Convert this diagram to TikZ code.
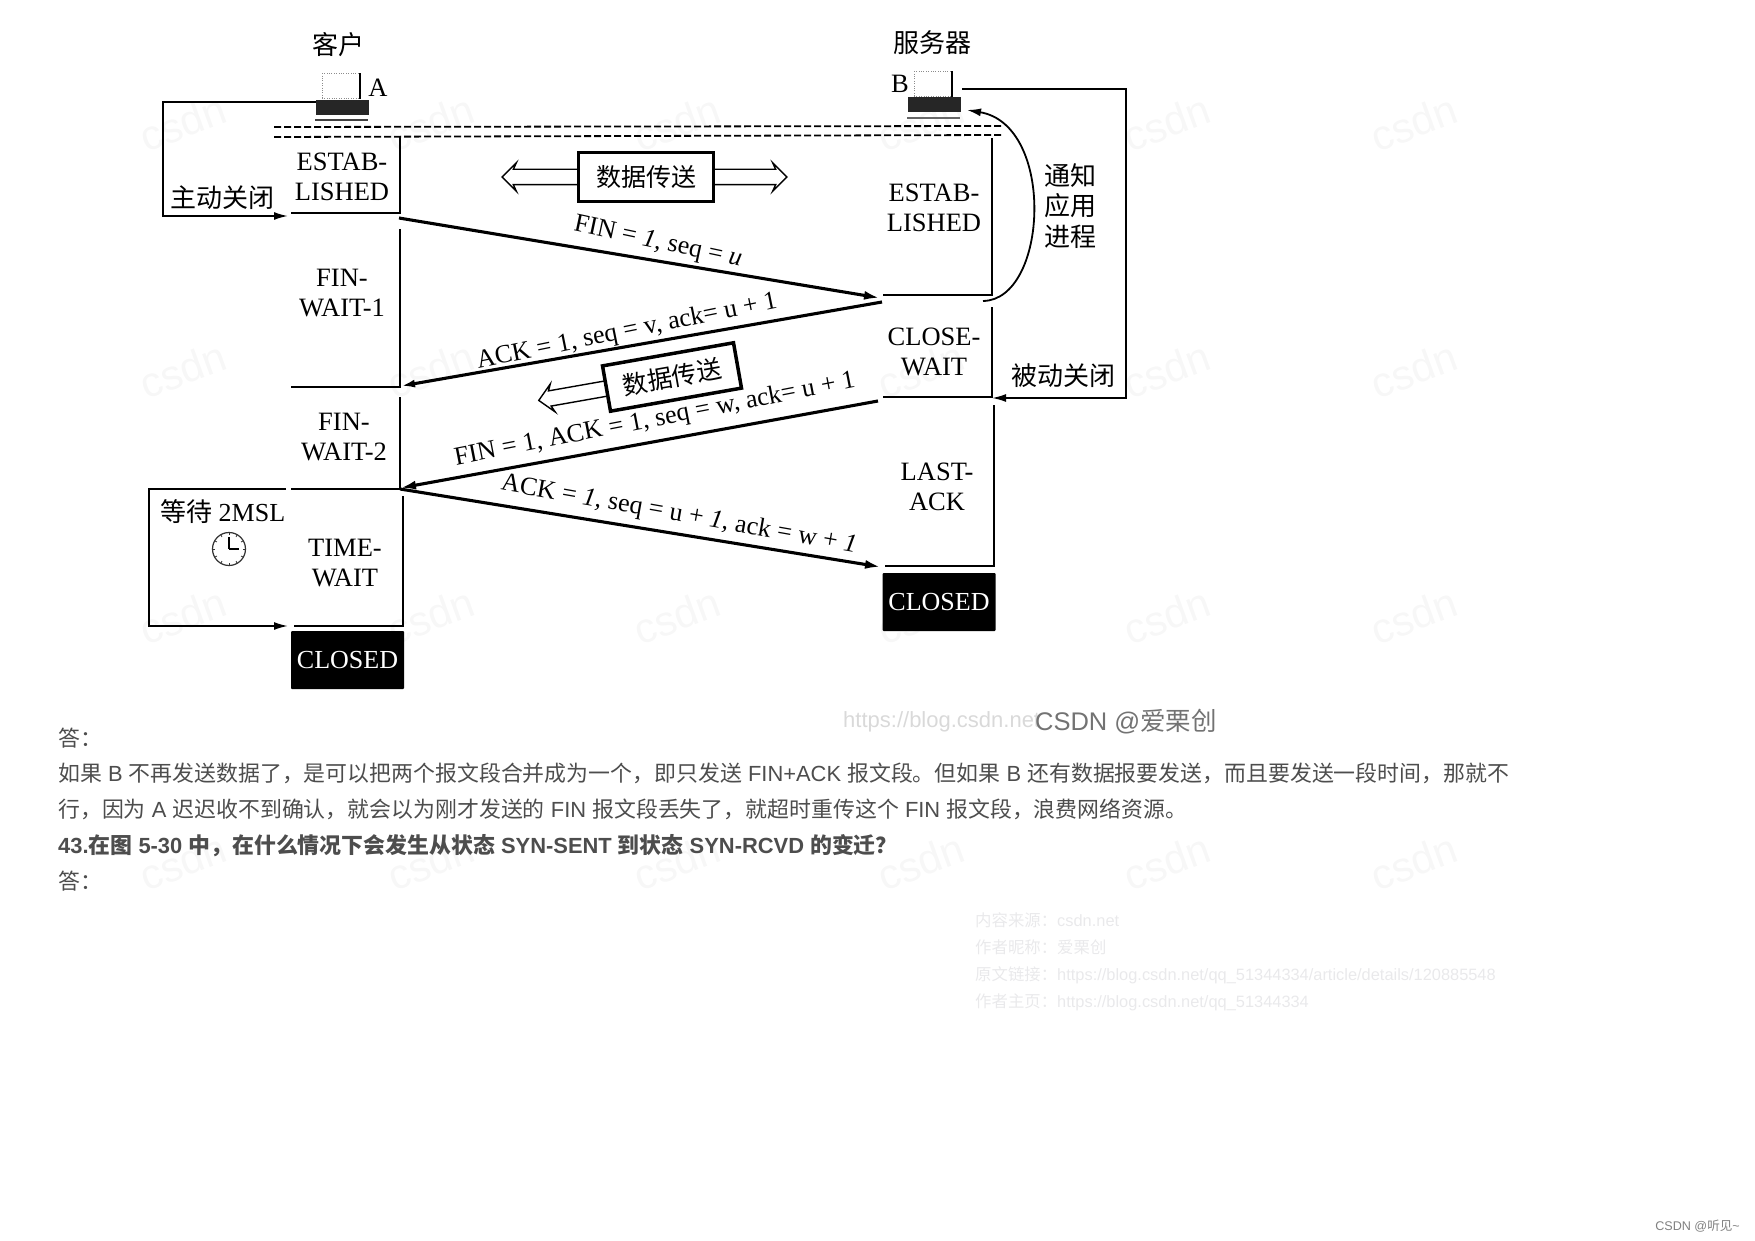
\documentclass[tikz,border=0pt]{standalone}
\usepackage{fontspec}
\usetikzlibrary{arrows.meta,positioning,calc,shapes.arrows}
\setmainfont{Liberation Sans}
\newfontfamily\cjk{Noto Sans CJK SC}
\newfontfamily\timesrm{Liberation Serif}
\newcommand{\zh}[1]{{\cjk #1}}
\newcommand{\fwcomma}{\char"FF0C\relax}
\newcommand{\fwcolon}{\char"FF1A\relax}
\newcommand{\fwquest}{\char"FF1F\relax}
\definecolor{bodygray}{HTML}{4D4D4D}
\definecolor{markgray}{HTML}{F7F7F7}
\definecolor{notegray}{HTML}{E9E9EB}
\tikzset{
	statelabel/.style={font=\timesrm\fontsize{26.5}{30}\selectfont,align=center,inner sep=0pt},
	msglabel/.style={font=\timesrm\fontsize{26}{27}\selectfont,inner sep=0pt},
	cnlabel/.style={font=\cjk\fontsize{26}{30.5}\selectfont,align=center,inner sep=0pt},
	closedbox/.style={fill=black,text=white,font=\timesrm\fontsize{26}{30}\selectfont,minimum width=113pt,minimum height=58pt,inner sep=0pt,rounded corners=1pt},
	databox/.style={draw,line width=3.5pt,fill=white,font=\cjk\fontsize{25}{30}\selectfont,minimum width=133pt,minimum height=46pt,inner sep=0pt},
	hollowarrow/.style={single arrow,draw,line width=1.4pt,fill=white,single arrow head extend=6.5pt,single arrow head indent=3pt,inner xsep=0pt,inner ysep=7pt},
	stateline/.style={line width=1.5pt},
	loopline/.style={line width=1.8pt},
	msgline/.style={line width=3.1pt},
	bodytext/.style={anchor=base west,inner sep=0pt,text=bodygray,font=\fontsize{21.9}{26}\selectfont},
	notetext/.style={anchor=base west,inner sep=0pt,text=notegray,font=\fontsize{16.4}{20}\selectfont},
	watermark/.style={text=markgray,font=\fontsize{42}{44}\selectfont,rotate=20,inner sep=0pt},
	hostbase/.style={fill=black!85,minimum width=53pt,minimum height=15pt,inner sep=0pt},
	hostscreen/.style={draw=black!45,dotted,minimum width=38pt,minimum height=25pt,inner sep=0pt},
}
\begin{document}
\begin{tikzpicture}[x=1pt,y=-1pt]
	\useasboundingbox (0,0) rectangle (1755,1241);

	\foreach \wy in {123,370,616,862}
		\foreach \wx in {183,431,677,921,1167,1414}
			\node[watermark] at (\wx,\wy) {csdn};

	\node[cnlabel] (clientname) at (338,45) {客户};
	\node[cnlabel] (servername) at (932,43) {服务器};

	\node[hostscreen] (screena) at (341,86) {};
	\node[hostbase] (basea) at (342,108) {};
	\node[hostscreen] (screenb) at (933,84) {};
	\node[hostbase] (baseb) at (934,105) {};
	\draw[line width=1.6pt] (screena.north east) -- (screena.south east);
	\draw[line width=1.6pt] (screenb.north east) -- (screenb.south east);
	\draw[line width=1.8pt,black!75] (basea.south west)++(0,4) -- ++(53,0);
	\draw[line width=1.8pt,black!60] (baseb.south west)++(0,5) -- ++(53,0);
	\node[statelabel] (hosta) at (378,88) {A};
	\node[statelabel] (hostb) at (900,84) {B};

	\coordinate (dasha) at (274,127);
	\coordinate (dashb) at (1002,126);
	\coordinate (dashc) at (274,137);
	\coordinate (dashd) at (1002,135);
	\draw[line width=1.8pt,dash pattern=on 7pt off 3pt] (dasha) -- (dashb);
	\draw[line width=1.8pt,dash pattern=on 7pt off 3pt] (dashc) -- (dashd);

	\coordinate (la) at (400,137);
	\coordinate (lb) at (400,213);
	\coordinate (lc) at (291,213);
	\coordinate (ld) at (400,229);
	\coordinate (le) at (400,387);
	\coordinate (lf) at (291,387);
	\coordinate (lg) at (400,397);
	\coordinate (lh) at (400,489);
	\coordinate (li) at (291,489);
	\coordinate (lj) at (403,496);
	\coordinate (lk) at (403,626);
	\coordinate (ll) at (294,626);
	\draw[stateline] (la) -- (lb) -- (lc);
	\draw[stateline] (ld) -- (le) -- (lf);
	\draw[stateline] (lg) -- (lh) -- (li);
	\draw[stateline] (lj) -- (lk) -- (ll);

	\coordinate (ra) at (992,138);
	\coordinate (rb) at (992,295);
	\coordinate (rc) at (883,295);
	\coordinate (rd) at (992,307);
	\coordinate (re) at (992,397);
	\coordinate (rf) at (883,397);
	\coordinate (rg) at (994,405);
	\coordinate (rh) at (994,566);
	\coordinate (ri) at (885,566);
	\draw[stateline] (ra) -- (rb) -- (rc);
	\draw[stateline] (rd) -- (re) -- (rf);
	\draw[stateline] (rg) -- (rh) -- (ri);

	\node[statelabel] (estaba) at (342,177) {ESTAB-\\LISHED};
	\node[statelabel] (finone) at (342,293) {FIN-\\WAIT-1};
	\node[statelabel] (fintwo) at (344,437) {FIN-\\WAIT-2};
	\node[statelabel] (timewait) at (345,563) {TIME-\\WAIT};
	\node[statelabel] (estabb) at (934,208) {ESTAB-\\LISHED};
	\node[statelabel] (closewait) at (934,352) {CLOSE-\\WAIT};
	\node[statelabel] (lastack) at (937,487) {LAST-\\ACK};
	\node[closedbox] (closeda) at (347.5,660) {CLOSED};
	\node[closedbox] (closedb) at (939,602) {CLOSED};

	\node[hollowarrow,shape border rotate=180,minimum height=78pt] (dataleft) at (545,177) {};
	\node[hollowarrow,minimum height=78pt] (dataright) at (744,177) {};
	\node[databox,minimum width=135pt,minimum height=49pt] (dataone) at (646,177) {数据传送};
	\node[hollowarrow,shape border rotate=180,rotate=10,minimum height=72pt] (datalower) at (578,393.5) {};
	\node[databox,rotate=10] (datatwo) at (672,377) {数据传送};

	\coordinate (finstart) at (399,218);
	\coordinate (fintip) at (880,298);
	\coordinate (ackstart) at (882,302);
	\coordinate (acktip) at (401,386);
	\coordinate (lastfinstart) at (878,401);
	\coordinate (lastfintip) at (400,488);
	\coordinate (lastackstart) at (400,489);
	\coordinate (lastacktip) at (881,567);
	\draw[msgline,-{Latex[length=16pt,width=9pt]}] (finstart) -- (fintip);
	\draw[msgline,-{Latex[length=14pt,width=8pt]}] (ackstart) -- (acktip);
	\draw[msgline,-{Latex[length=16pt,width=9pt]}] (lastfinstart) -- (lastfintip);
	\draw[msgline,-{Latex[length=16pt,width=9pt]}] (lastackstart) -- (lastacktip);

	\node[msglabel,rotate=-12] (finlabel) at (658,243) {FIN = \textit{1}, seq = \textit{u}};
	\node[msglabel,rotate=11.5] (acklabel) at (627,332) {ACK = 1, seq = v, ack= u + 1};
	\node[msglabel,rotate=11] (lastfinlabel) at (655,420) {FIN = 1, ACK = 1, seq = w, ack= u + 1};
	\node[msglabel,rotate=-10] (lastacklabel) at (679,515) {ACK = \textit{1}, seq = u + \textit{1}, ack = w + \textit{1}};

	\coordinate (activea) at (316,102);
	\coordinate (activeb) at (163,102);
	\coordinate (activec) at (163,216);
	\coordinate (actived) at (288,216);
	\draw[loopline,-{Latex[length=14pt,width=8pt]}] (activea) -- (activeb) -- (activec) -- (actived);
	\node[cnlabel] (activelabel) at (222,198) {主动关闭};

	\coordinate (waita) at (286,489);
	\coordinate (waitb) at (149,489);
	\coordinate (waitc) at (149,626);
	\coordinate (waitd) at (288,626);
	\draw[loopline,-{Latex[length=14pt,width=8pt]}] (waita) -- (waitb) -- (waitc) -- (waitd);
	\node[cnlabel] (waitlabel) at (223,512) {等待 {\timesrm 2MSL}};
	\node[circle,draw=black!80,line width=1.2pt,minimum size=33pt,inner sep=0pt] (clock) at (229,549) {};
	\foreach \ang in {0,30,...,330}
		\draw[line width=0.8pt,black!80] ($(clock)+(\ang:14)$) -- ($(clock)+(\ang:16.5)$);
	\draw[line width=1.4pt] (clock.center) -- ++(0,-12);
	\draw[line width=1.4pt] (clock.center) -- ++(10,0);

	\coordinate (servera) at (962,89);
	\coordinate (serverb) at (1126,89);
	\coordinate (serverc) at (1126,398);
	\coordinate (serverd) at (992,398);
	\draw[loopline,-{Latex[length=14pt,width=8pt]}] (servera) -- (serverb) -- (serverc) -- (serverd);
	\node[cnlabel] (passivelabel) at (1063,376) {被动关闭};

	\coordinate (notifya) at (983,301);
	\coordinate (notifyb) at (967,110);
	\draw[loopline,-{Latex[length=14pt,width=8pt]}] (notifya) .. controls (1048,300) and (1056,125) .. (notifyb);
	\node[cnlabel] (notifylabel) at (1070,206) {通知\\应用\\进程};

	\node[anchor=west,inner sep=0pt,text=black!15,font=\fontsize{22}{26}\selectfont] (sourceurl) at (843,722) {https://blog.csdn.net};
	\node[anchor=center,inner sep=0pt,text=black!55,font=\fontsize{25.5}{30}\selectfont] (sourcemark) at (1126,722) {CSDN @\zh{爱栗创}};

	\node[bodytext] (answerone) at (58,746) {\zh{答\fwcolon}};
	\node[bodytext] (lineone) at (58,781) {\zh{如果} B \zh{不再发送数据了\fwcomma 是可以把两个报文段合并成为一个\fwcomma 即只发送} FIN+ACK \zh{报文段。但如果} B \zh{还有数据报要发送\fwcomma 而且要发送一段时间\fwcomma 那就不}};
	\node[bodytext] (linetwo) at (58,817) {\zh{行\fwcomma 因为} A \zh{迟迟收不到确认\fwcomma 就会以为刚才发送的} FIN \zh{报文段丢失了\fwcomma 就超时重传这个} FIN \zh{报文段\fwcomma 浪费网络资源。}};
	\node[bodytext,font=\bfseries\fontsize{21.9}{26}\selectfont] (question) at (58,853) {43.\zh{在图} 5-30 \zh{中\fwcomma 在什么情况下会发生从状态} SYN-SENT \zh{到状态} SYN-RCVD \zh{的变迁\fwquest}};
	\node[bodytext] (answertwo) at (58,889) {\zh{答\fwcolon}};

	\node[notetext] (notea) at (975,926) {\zh{内容来源\fwcolon}csdn.net};
	\node[notetext] (noteb) at (975,953) {\zh{作者昵称\fwcolon 爱栗创}};
	\node[notetext] (notec) at (975,980) {\zh{原文链接\fwcolon}https://blog.csdn.net/qq\_51344334/article/details/120885548};
	\node[notetext] (noted) at (975,1007) {\zh{作者主页\fwcolon}https://blog.csdn.net/qq\_51344334};

	\node[anchor=east,inner sep=0pt,text=black!50,font=\fontsize{12.6}{16}\selectfont] (sitemark) at (1740,1226) {CSDN @\zh{听见}\textasciitilde};
\end{tikzpicture}
\end{document}
